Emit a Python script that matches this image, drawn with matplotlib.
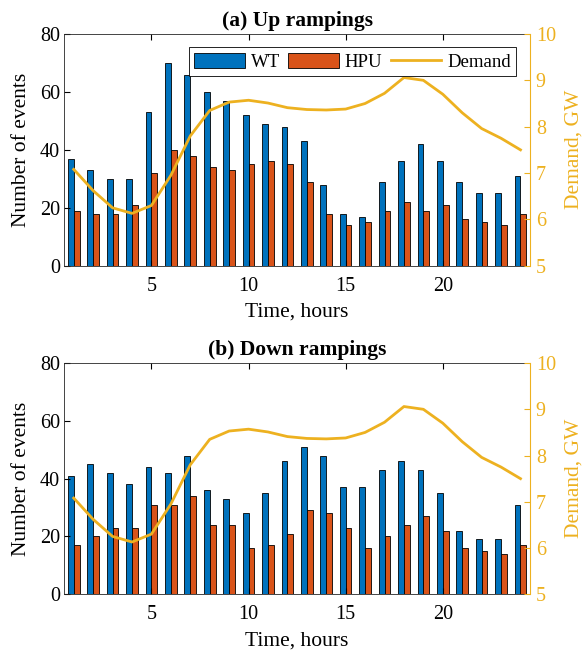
import numpy as np
import matplotlib
matplotlib.use("Agg")
import matplotlib.pyplot as plt

plt.rcParams['font.family'] = ['Liberation Serif', 'DejaVu Serif']
plt.rcParams['mathtext.fontset'] = 'stix'

hours = np.arange(1, 25)

up_wt = [37, 33, 30, 30, 53, 70, 66, 60, 57, 52, 49, 48, 43, 28, 18, 17, 29, 36, 42, 36, 29, 25, 25, 31]
up_hpu = [19, 18, 18, 21, 32, 40, 38, 34, 33, 35, 36, 35, 29, 18, 14, 15, 19, 22, 19, 21, 16, 15, 14, 18]

down_wt = [41, 45, 42, 38, 44, 42, 48, 36, 33, 28, 35, 46, 51, 48, 37, 37, 43, 46, 43, 35, 22, 19, 19, 31]
down_hpu = [17, 20, 23, 23, 31, 31, 34, 24, 24, 16, 17, 21, 29, 28, 23, 16, 20, 24, 27, 22, 16, 15, 14, 17]

demand = [7.08, 6.62, 6.25, 6.13, 6.3, 6.95, 7.8, 8.35, 8.53, 8.57, 8.51, 8.41, 8.37, 8.36, 8.38,
          8.5, 8.72, 9.06, 9.0, 8.7, 8.3, 7.96, 7.75, 7.5]

c_wt = '#0072BD'
c_hpu = '#D95319'
c_dem = '#EDB120'

fig = plt.figure(figsize=(5.82, 6.53), dpi=100)


def panel(rect, wt, hpu, title, legend=False):
    ax = fig.add_axes(rect)
    w = 0.3
    b1 = ax.bar(hours - 0.15, wt, w, color=c_wt, edgecolor='black', linewidth=0.6, label='WT')
    b2 = ax.bar(hours + 0.15, hpu, w, color=c_hpu, edgecolor='black', linewidth=0.6, label='HPU')
    ax.set_xlim(0.5, 24.5)
    ax.set_ylim(0, 80)
    ax.set_yticks([0, 20, 40, 60, 80])
    ax.set_xticks([5, 10, 15, 20])
    ax.tick_params(direction='in', labelsize=14.5, top=True, right=False, length=4, pad=3)
    ax.tick_params(axis='x', pad=8)
    ax.set_ylabel('Number of events', fontsize=15.5, labelpad=6)
    ax.set_xlabel('Time, hours', fontsize=15.5, labelpad=5)
    ax.set_title(title, fontsize=15.5, fontweight='bold', pad=6)
    for s in ['left', 'top', 'bottom']:
        ax.spines[s].set_linewidth(0.6)
        ax.spines[s].set_color('#262626')
    ax.spines['right'].set_visible(False)

    ax2 = ax.twinx()
    l, = ax2.plot(hours, demand, color=c_dem, linewidth=2, label='Demand')
    ax2.set_ylim(5, 10)
    ax2.set_yticks([5, 6, 7, 8, 9, 10])
    ax2.tick_params(direction='in', labelsize=14.5, colors=c_dem, length=4, pad=4)
    ax2.set_ylabel('Demand, GW', fontsize=15.5, color=c_dem, labelpad=6)
    ax2.spines['right'].set_color(c_dem)
    ax2.spines['right'].set_linewidth(0.8)
    for s in ['left', 'top', 'bottom']:
        ax2.spines[s].set_visible(False)

    if legend:
        leg = ax2.legend([b1, b2, l], ['WT', 'HPU', 'Demand'], ncol=3, loc='upper right',
                         bbox_to_anchor=(0.97, 0.944), fontsize=13.5, frameon=True, fancybox=False,
                         edgecolor='black', framealpha=1, handlelength=2.7, handleheight=0.9,
                         borderpad=0.3, columnspacing=0.45, handletextpad=0.3, borderaxespad=0)
        leg.get_frame().set_linewidth(0.6)
    return ax


panel([0.110, 0.593, 0.801, 0.355], up_wt, up_hpu, '(a) Up rampings', legend=True)
panel([0.110, 0.090, 0.801, 0.354], down_wt, down_hpu, '(b) Down rampings')

fig.savefig('out.png', dpi=100)
